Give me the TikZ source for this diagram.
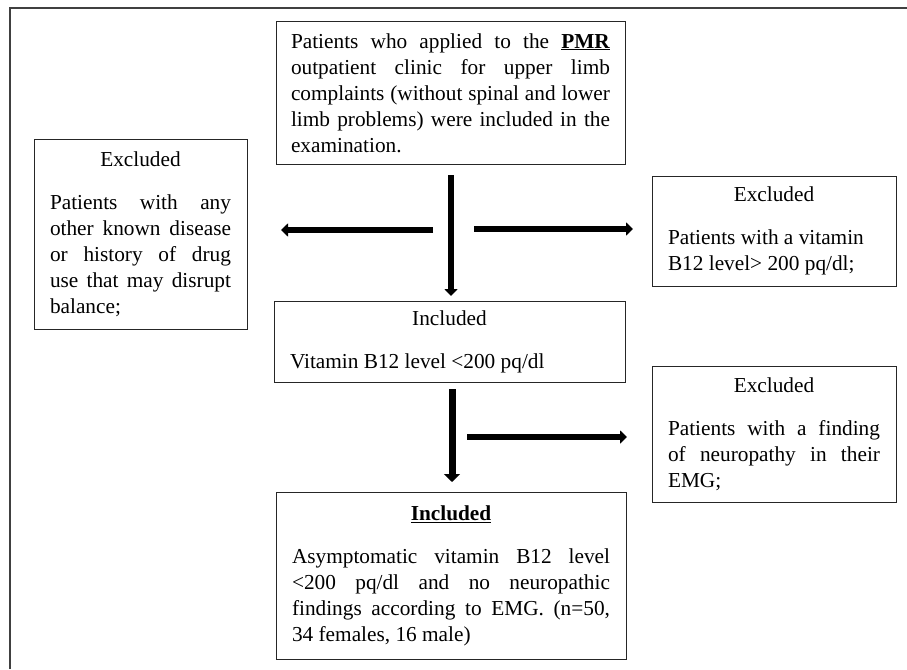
\documentclass[tikz,border=0pt]{standalone}
\usepackage{fontspec}
\setmainfont{Liberation Serif}
\usetikzlibrary{arrows.meta}
\hyphenpenalty=10000
\exhyphenpenalty=10000
\begin{document}
\begin{tikzpicture}[x=1pt,y=-1pt,
  box/.style={draw=black!85, line width=1pt, anchor=north west, outer sep=0pt,
    inner xsep=16pt, inner ysep=0pt, align=justify,
    font=\fontsize{21.3}{26}\selectfont},
  frameline/.style={draw=black!75, line width=1.6pt},
  arrthin/.style={line width=5.5pt, -{Triangle[length=7pt,width=13pt]}},
  arrthick/.style={line width=7pt, -{Triangle[length=8pt,width=16pt]}}]
\useasboundingbox (0,0) rectangle (907,669);
\draw[frameline] (10,669) -- (10,8) -- (907,8);

\node[box, inner xsep=15pt, text width=319pt, minimum width=349pt, minimum height=142pt] (top) at (276,22)
 {Patients who applied to the \underline{\textbf{PMR}}\linebreak
  outpatient clinic for upper limb\linebreak
  complaints (without spinal and lower\linebreak
  limb problems) were included in the\linebreak
  examination.};

\node[box, text width=181pt, minimum width=213pt, minimum height=190pt] (left) at (34,139)
 {{\centering Excluded\par}\vspace{17pt}%
  Patients with any\linebreak other known disease\linebreak or history of drug\linebreak
  use that may disrupt\linebreak balance;};

\node[box, text width=212pt, minimum width=244pt, minimum height=110pt] (r1) at (652,176)
 {{\centering Excluded\par}\vspace{17pt}%
  {\raggedright Patients with a vitamin\\ B12 level> 200 pq/dl;\par}};

\node[box, text width=319pt, minimum width=351pt, minimum height=81pt] (mid) at (274,301)
 {{\centering Included\par}\vspace{17pt}%
  {\raggedright Vitamin B12 level <200 pq/dl\par}};

\node[box, text width=212pt, minimum width=244pt, minimum height=136pt] (r2) at (652,366)
 {{\centering Excluded\par}\vspace{17pt}%
  Patients with a finding\linebreak of neuropathy in their\linebreak EMG;};

\node[box, text width=318pt, minimum width=350pt, minimum height=167pt] (bot) at (276,492)
 {{\centering \underline{\textbf{Included}}\par}\vspace{17pt}%
  Asymptomatic vitamin B12 level\linebreak
  <200 pq/dl and no neuropathic\linebreak
  findings according to EMG. (n=50,\linebreak
  34 females, 16 male)};

\coordinate (a1s) at (451,175);
\coordinate (a2s) at (433,230);
\coordinate (a3s) at (474,229);
\coordinate (a4s) at (452,389);
\coordinate (a5s) at (467,437);

\draw[arrthin] (a1s) -- ([yshift=5pt]mid.north -| a1s);
\draw[arrthin] (a2s) -- ([xshift=34pt]left.east |- a2s);
\draw[arrthin] (a3s) -- ([xshift=-19pt]r1.west |- a3s);
\draw[arrthick] (a4s) -- ([yshift=10pt]bot.north -| a4s);
\draw[arrthin] (a5s) -- ([xshift=-25pt]r2.west |- a5s);
\end{tikzpicture}
\end{document}
